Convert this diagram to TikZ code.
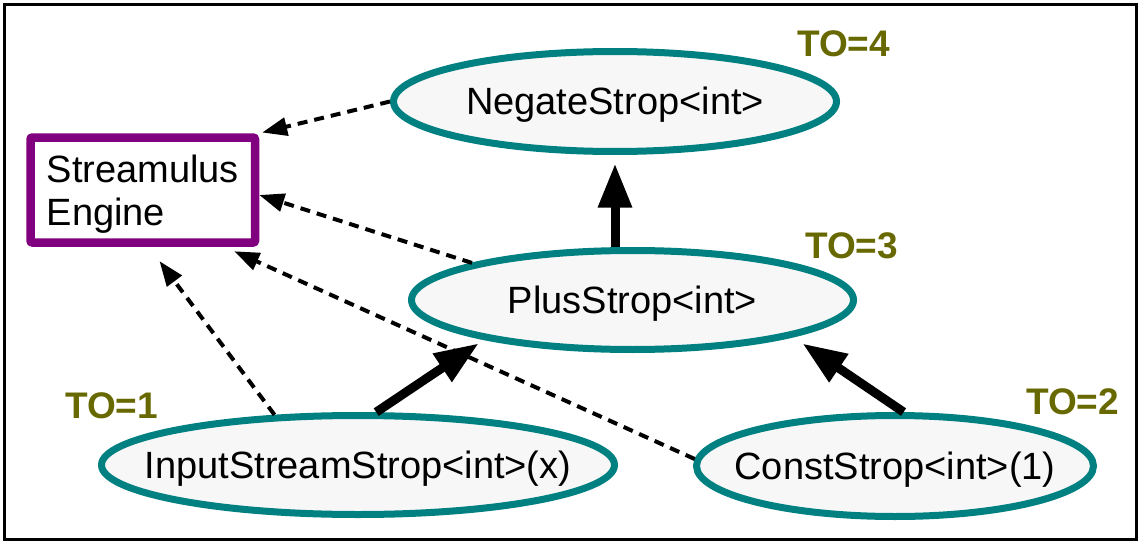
\documentclass[tikz,border=0pt]{standalone}
\usepackage{fontspec}
\setmainfont{Liberation Sans}
\usetikzlibrary{shapes.geometric,arrows.meta,calc}
\definecolor{stropteal}{RGB}{0,128,128}
\definecolor{stropfill}{RGB}{247,247,247}
\definecolor{enginepurple}{RGB}{128,0,128}
\definecolor{orderolive}{RGB}{104,104,0}
\begin{document}
\begin{tikzpicture}[x=1pt,y=-1pt,
  strop/.style={ellipse, draw=stropteal, line width=7pt, fill=stropfill,
    inner sep=0pt, text height=26pt, text depth=0pt,
    font=\fontsize{38}{44}\selectfont},
  engine/.style={draw=enginepurple, line width=8.5pt, rounded corners=2pt,
    fill=white, inner sep=0pt, align=left,
    font=\fontsize{38}{43}\selectfont},
  order/.style={anchor=base west, inner sep=0pt, text=orderolive,
    font=\fontsize{37}{44}\selectfont\bfseries},
  feed/.style={-{Triangle[length=44pt,width=32pt]}, line width=9pt},
  register/.style={-{Triangle[length=25pt,width=18pt]}, line width=4pt,
    dash pattern=on 10pt off 7pt}
]
\useasboundingbox (0,0) rectangle (1141,543);
\draw[line width=3pt] (4.5,5) rectangle (1136.5,539.5);

% engine and strops
\node[engine, minimum width=224.5pt, minimum height=105pt] (eng) at (142.75,190)
  {\rule{0pt}{35pt}Streamulus\\Engine};
\node[strop, minimum width=443pt, minimum height=100pt] (neg) at (615,101.5)
  {\makebox[0pt]{NegateStrop<int>}};
\node[strop, minimum width=442pt, minimum height=99pt] (plus) at (632.5,300)
  {\makebox[0pt]{PlusStrop<int>}};
\node[strop, minimum width=513pt, minimum height=99pt] (inp) at (358,465)
  {\makebox[0pt]{InputStreamStrop<int>(x)}};
\node[strop, minimum width=397pt, minimum height=101pt] (cst) at (895,466)
  {\makebox[0pt]{ConstStrop<int>(1)}};

% topological order labels
\node[order] (to4) at (797,57) {TO=4};
\node[order] (to3) at (805,258) {TO=3};
\node[order] (to1) at (65,418) {TO=1};
\node[order] (to2) at (1026,414) {TO=2};

% data flow between strops
\draw[feed, shorten >=8.5pt] (neg.south |- plus.north) -- (neg.south);
\draw[feed, shorten >=6.5pt] (inp.71) -- (plus.195.4);
\draw[feed, shorten >=11.5pt] (cst.81) -- (plus.347);

% registration with the engine
\draw[register, shorten >=3pt] (neg.west) -- (eng.north east);
\draw[register] (plus.167.5) -- ($(eng.east)+(0,5)$);
\draw[register, shorten >=11pt] (cst.178) -- ($(eng.south east)+(-35,0)$);
\draw[register, shorten >=18pt] (inp.149) -- ($(eng.south)+(6,0)$);
\end{tikzpicture}
\end{document}
